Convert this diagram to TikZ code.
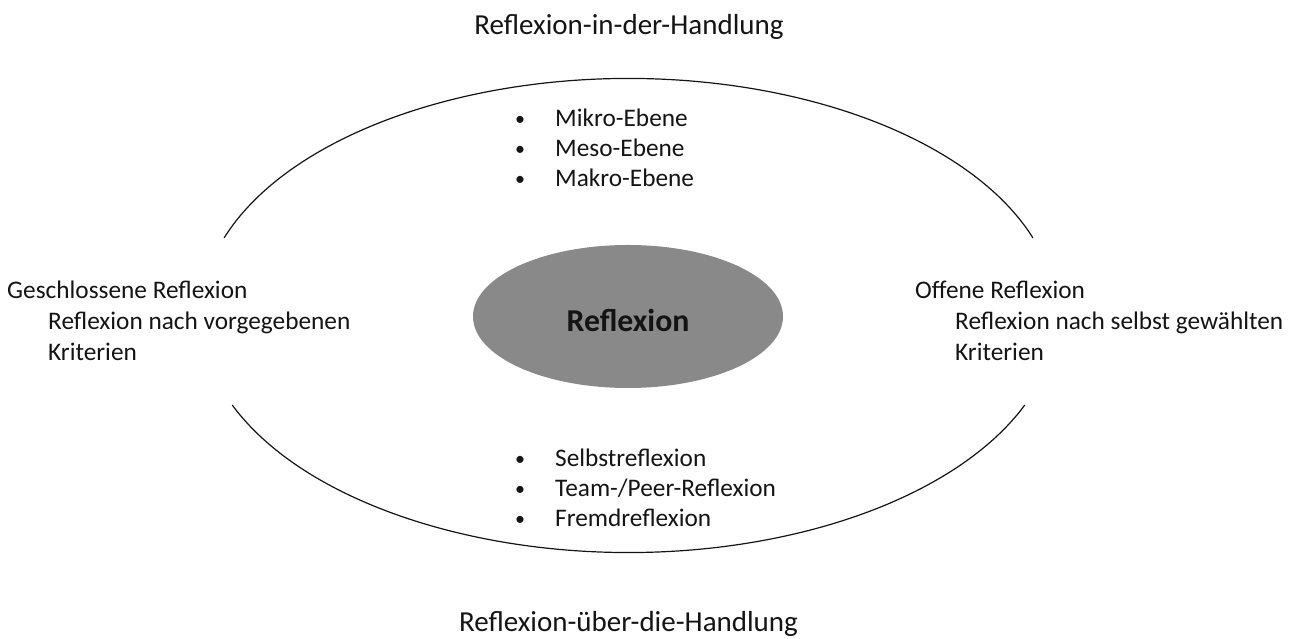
\documentclass[tikz,border=0pt]{standalone}
\usepackage{fontspec}
\setmainfont{Carlito}
\usetikzlibrary{shapes.geometric}
\definecolor{core}{RGB}{137,137,137}
\definecolor{ink}{RGB}{20,20,20}
\tikzset{
  txt/.style={inner sep=0pt, anchor=base west, text=ink, font=\fontsize{25.3}{30}\selectfont},
  dotb/.style={inner sep=0pt, anchor=base west, text=ink, font=\fontsize{20}{24}\selectfont},
  ttl/.style={inner sep=0pt, anchor=base, text=ink, font=\fontsize{29}{34}\selectfont},
  rim/.style={draw=ink, line width=1.2pt},
}
\begin{document}
\begin{tikzpicture}[x=1pt,y=1pt]
\useasboundingbox (0,0) rectangle (1301,639);
\coordinate (C) at (628.5,323.5);
% outer ellipse arcs
\draw[rim] ([shift={(160.9:428 and 237)}]C) arc[start angle=160.9, end angle=19.1, x radius=428, y radius=237];
\draw[rim] ([shift={(202.2:428 and 237)}]C) arc[start angle=202.2, end angle=337.8, x radius=428, y radius=237];
% core
\node[ellipse, fill=core, minimum width=310, minimum height=143, inner sep=0pt] (core) at (628,322.5) {};
\node[inner sep=0pt, anchor=base, text=ink, font=\fontsize{31.8}{36}\selectfont\bfseries] (corelbl) at (628,307) {Reflexion};
% titles
\node[ttl] (top) at (629,604) {Reflexion-in-der-Handlung};
\node[ttl] (bot) at (628.5,7) {Reflexion-über-die-Handlung};
% top list
\node[dotb] (b1) at (515,513) {\textbullet};
\node[txt] (m1) at (555,512) {Mikro-Ebene};
\node[dotb] (b2) at (515,483) {\textbullet};
\node[txt] (m2) at (555,482) {Meso-Ebene};
\node[dotb] (b3) at (515,453) {\textbullet};
\node[txt] (m3) at (555,452) {Makro-Ebene};
% bottom list
\node[dotb] (b4) at (515,173) {\textbullet};
\node[txt] (s1) at (555,172) {Selbstreflexion};
\node[dotb] (b5) at (515,143) {\textbullet};
\node[txt] (s2) at (555,142) {Team-/Peer-Reflexion};
\node[dotb] (b6) at (515,113) {\textbullet};
\node[txt] (s3) at (555,112) {Fremdreflexion};
% left block
\node[txt] (l1) at (7,340) {Geschlossene Reflexion};
\node[txt] (l2) at (48,309) {Reflexion nach vorgegebenen};
\node[txt] (l3) at (48,278) {Kriterien};
% right block
\node[txt] (r1) at (915,340) {Offene Reflexion};
\node[txt] (r2) at (955,309) {Reflexion nach selbst gewählten};
\node[txt] (r3) at (955,278) {Kriterien};
\end{tikzpicture}
\end{document}
